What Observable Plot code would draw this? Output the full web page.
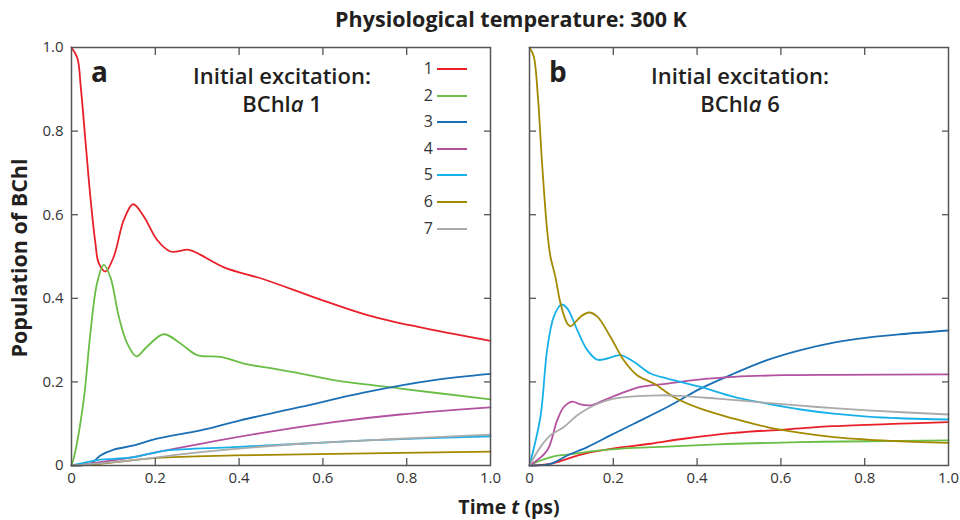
<!DOCTYPE html>
<html><head><meta charset="utf-8">
<script src="https://cdn.jsdelivr.net/npm/d3@7"></script>
<script src="https://cdn.jsdelivr.net/npm/@observablehq/plot@0.6"></script>
<style>
body{margin:0;background:#fff;}
#wrap{position:relative;width:960px;height:520px;font-family:"Open Sans",sans-serif;color:#231f20;overflow:hidden;}
#wrap svg text{font-size:15px !important;font-family:"Open Sans",sans-serif;}
.abs{position:absolute;white-space:nowrap;}
.title{font-weight:700;font-size:21.5px;line-height:26px;}
.xlab{font-weight:700;font-size:19.5px;line-height:21px;}
.ann{font-weight:600;font-size:22px;text-align:center;line-height:28px;}
.let{font-weight:700;font-size:28px;}
.leg{font-size:16px;color:#333;}
</style></head><body><div id="wrap"></div>
<script>
const seriesNames = ["1","2","3","4","5","6","7"];
const seriesColors = ["#e8202a","#6abd45","#1a6fb5","#b4519f","#18b0e8","#a38900","#aaaaaa"];
const xTicks = [0, 0.2, 0.4, 0.6, 0.8, 1.0];
const yTicks = [0, 0.2, 0.4, 0.6, 0.8, 1.0];
const innerTicks = [0.2, 0.4, 0.6, 0.8];

// Panel a: initial excitation BChla 1  ([t, population])
const a1 = [[0,1],[0.014,0.975],[0.022,0.907],[0.033,0.78],[0.045,0.643],[0.057,0.532],[0.065,0.484],[0.081,0.464],[0.101,0.50],[0.125,0.588],[0.147,0.625],[0.173,0.595],[0.204,0.54],[0.236,0.512],[0.28,0.516],[0.308,0.504],[0.364,0.474],[0.46,0.445],[0.586,0.40],[0.706,0.36],[0.825,0.332],[1.0,0.298]];
const a2 = [[0,0],[0.006,0.02],[0.029,0.156],[0.045,0.316],[0.061,0.436],[0.077,0.48],[0.093,0.45],[0.113,0.356],[0.133,0.292],[0.155,0.261],[0.18,0.284],[0.22,0.314],[0.26,0.292],[0.30,0.264],[0.356,0.26],[0.411,0.244],[0.467,0.234],[0.547,0.22],[0.626,0.204],[0.785,0.184],[1.0,0.158]];
const a3 = [[0,0],[0.045,0.004],[0.069,0.024],[0.101,0.038],[0.149,0.048],[0.204,0.064],[0.308,0.084],[0.403,0.108],[0.547,0.14],[0.706,0.176],[0.865,0.204],[1.0,0.219]];
const a4 = [[0,0],[0.069,0.008],[0.149,0.02],[0.204,0.032],[0.308,0.052],[0.467,0.08],[0.626,0.104],[0.785,0.122],[1.0,0.139]];
const a5 = [[0,0],[0.069,0.014],[0.101,0.016],[0.149,0.02],[0.19,0.029],[0.228,0.036],[0.387,0.044],[0.547,0.052],[0.706,0.06],[1.0,0.07]];
const a6 = [[0,0],[0.069,0.004],[0.204,0.018],[0.387,0.024],[0.626,0.028],[1.0,0.033]];
const a7 = [[0,0],[0.149,0.013],[0.308,0.032],[0.547,0.052],[0.785,0.064],[1.0,0.074]];

// Panel b: initial excitation BChla 6
const b1 = [[0,0],[0.05,0.004],[0.09,0.016],[0.13,0.028],[0.209,0.042],[0.289,0.052],[0.368,0.064],[0.488,0.078],[0.607,0.086],[0.726,0.094],[0.885,0.10],[1.0,0.104]];
const b2 = [[0,0],[0.026,0.012],[0.058,0.022],[0.09,0.026],[0.169,0.036],[0.249,0.042],[0.329,0.045],[0.488,0.052],[0.647,0.056],[0.806,0.058],[1.0,0.06]];
const b3 = [[0,0],[0.05,0.004],[0.09,0.024],[0.138,0.044],[0.193,0.072],[0.249,0.10],[0.329,0.14],[0.408,0.184],[0.488,0.22],[0.567,0.252],[0.647,0.276],[0.726,0.294],[0.806,0.306],[0.885,0.314],[1.0,0.323]];
const b4 = [[0,0],[0.042,0.036],[0.066,0.108],[0.082,0.14],[0.102,0.153],[0.122,0.146],[0.146,0.144],[0.177,0.156],[0.217,0.172],[0.265,0.188],[0.329,0.196],[0.408,0.206],[0.488,0.212],[0.607,0.216],[0.726,0.217],[1.0,0.218]];
const b5 = [[0,0],[0.026,0.116],[0.042,0.276],[0.058,0.356],[0.076,0.385],[0.09,0.376],[0.114,0.324],[0.138,0.276],[0.162,0.253],[0.186,0.256],[0.217,0.264],[0.249,0.248],[0.289,0.22],[0.329,0.208],[0.408,0.188],[0.488,0.164],[0.567,0.148],[0.647,0.134],[0.726,0.124],[0.806,0.117],[0.885,0.113],[1.0,0.11]];
const b6 = [[0,1],[0.010,0.979],[0.02,0.883],[0.03,0.723],[0.042,0.564],[0.05,0.50],[0.062,0.45],[0.074,0.388],[0.09,0.34],[0.098,0.333],[0.122,0.356],[0.142,0.366],[0.162,0.356],[0.193,0.308],[0.225,0.252],[0.257,0.216],[0.297,0.196],[0.344,0.164],[0.408,0.136],[0.488,0.112],[0.567,0.092],[0.647,0.078],[0.726,0.068],[0.806,0.062],[0.885,0.058],[1.0,0.054]];
const b7 = [[0,0],[0.026,0.044],[0.05,0.072],[0.082,0.092],[0.114,0.12],[0.146,0.14],[0.185,0.156],[0.233,0.164],[0.313,0.168],[0.368,0.166],[0.448,0.16],[0.567,0.15],[0.687,0.14],[0.806,0.132],[1.0,0.122]];

const panelA = [a1,a2,a3,a4,a5,a6,a7];
const panelB = [b1,b2,b3,b4,b5,b6,b7];

function rows(panel){
  return panel.flatMap((pts,i)=>pts.map(([t,v])=>({t, v, s: seriesNames[i]})));
}
const fmt = d => d === 0 ? "0" : d.toFixed(1);

function makePlot(panel, opts){
  return Plot.plot({
    width: opts.width, height: 500,
    marginLeft: opts.ml, marginRight: opts.mr, marginTop: 47, marginBottom: 35,
    x: {domain:[0,1]}, y: {domain:[0,1]},
    color: {domain: seriesNames, range: seriesColors},
    style: {fontFamily: '"Open Sans", sans-serif', fontSize: "15px", color: "#333", background: "transparent"},
    marks: [
      Plot.line(rows(panel), {x:"t", y:"v", z:"s", stroke:"s", curve:"catmull-rom", strokeWidth:1.8}),
      Plot.axisX(xTicks, {anchor:"bottom", tickSize:0, tickPadding:7, tickFormat: fmt, label:null, fontSize:15, fill:"#333"}),
      Plot.axisX(innerTicks, {anchor:"bottom", tickSize:-7, fill:"none", stroke:"#555", strokeWidth:1.3, label:null}),
      Plot.axisX(innerTicks, {anchor:"top", tickSize:-7, fill:"none", stroke:"#555", strokeWidth:1.3, label:null}),
      opts.labels ? Plot.axisY(yTicks, {anchor:"left", tickSize:0, tickPadding:8, tickFormat: fmt, label:null, fontSize:15, fill:"#333"}) : null,
      Plot.axisY(innerTicks, {anchor:"left", tickSize:-7, fill:"none", stroke:"#555", strokeWidth:1.3, label:null}),
      Plot.axisY(innerTicks, {anchor:"right", tickSize:-7, fill:"none", stroke:"#555", strokeWidth:1.3, label:null}),
      Plot.frame({stroke:"#555", strokeWidth:1.5})
    ]
  });
}

const wrap = document.getElementById("wrap");
function place(el, left, top){ el.style.position="absolute"; el.style.left=left+"px"; el.style.top=top+"px"; wrap.appendChild(el); return el; }
function div(html, cls, left, top){ const d=document.createElement("div"); d.className="abs "+cls; d.innerHTML=html; return place(d,left,top); }

place(makePlot(panelA, {width:505, ml:71, mr:15, labels:true}), 0, 0);
place(makePlot(panelB, {width:450, ml:19, mr:12, labels:false}), 510, 0);

// Title and axis labels
const t = div("Physiological temperature: 300 K", "title", 0, 6);
t.style.width="1022px"; t.style.textAlign="center";
const xl = div("Time <i>t</i> (ps)", "xlab", 0, 496);
xl.style.width="1018px"; xl.style.textAlign="center";
const yl = div("Population of BChl", "title", 0, 0);
yl.style.left="19px"; yl.style.top="258px"; yl.style.transform="translate(-50%,-50%) rotate(-90deg)";

// Panel annotations
div("a", "let", 91, 52);
div("b", "let", 549, 52);
const an1 = div("Initial excitation:<br>BChl<i>a</i> 1", "ann", 0, 61);
an1.style.width="220px"; an1.style.left="172px";
const an2 = div("Initial excitation:<br>BChl<i>a</i> 6", "ann", 0, 61);
an2.style.width="220px"; an2.style.left="630px";

// Legend
seriesNames.forEach((n,i)=>{
  const y = 69 + i*26.6;
  const num = div(n, "leg", 0, 0);
  num.style.width="20px"; num.style.textAlign="right"; num.style.left="413px"; num.style.top=(y-12)+"px";
  const ln = document.createElement("div");
  ln.style.width="30px"; ln.style.height="2px"; ln.style.background=seriesColors[i];
  place(ln, 437, y-1);
});
</script></body></html>
